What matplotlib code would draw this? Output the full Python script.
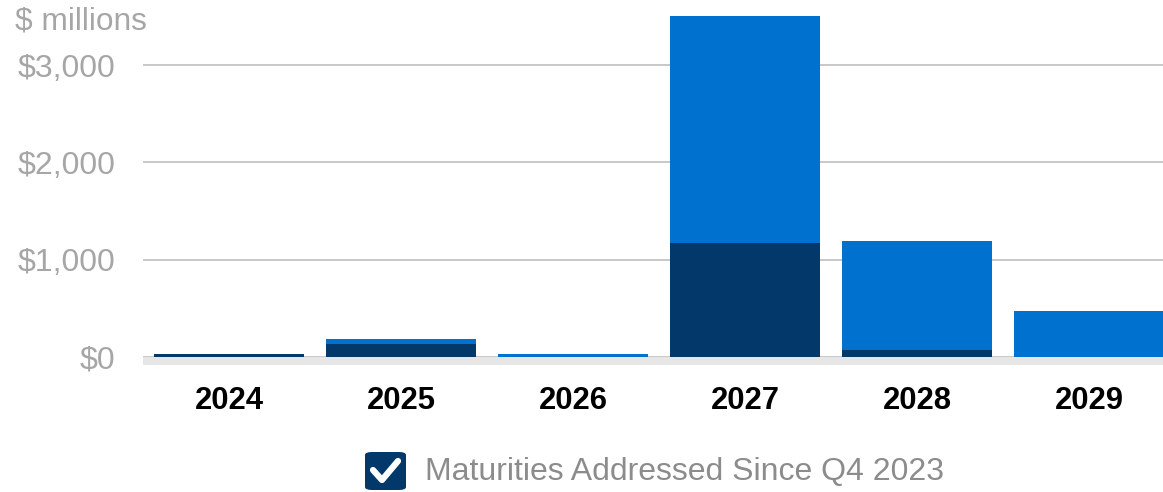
import matplotlib.pyplot as plt
from matplotlib.patches import FancyBboxPatch
from matplotlib.lines import Line2D

years = ["2024", "2025", "2026", "2027", "2028", "2029"]
addressed = [30, 130, 0, 1175, 70, 0]
remaining = [0, 55, 32, 2330, 1125, 478]

navy = "#02396A"
blue = "#0071CE"
gray_txt = "#A6A6A6"

plt.rcParams["font.family"] = ["Liberation Sans", "DejaVu Sans"]

fig = plt.figure(figsize=(11.63, 4.92), dpi=100)
ax = fig.add_axes([143 / 1163, 0.2575, 1 - 143 / 1163, 0.7209])

x = range(len(years))
ax.bar(x, addressed, width=0.872, color=navy, zorder=3)
ax.bar(x, remaining, width=0.872, bottom=addressed, color=blue, zorder=3)

ax.set_xlim(-0.5, 5.43)
ax.set_ylim(-85, 3560)
ax.axhspan(-85, 0, color="#E6E6E6", zorder=2, lw=0)

ax.set_yticks([0, 1000, 2000, 3000])
ax.set_yticklabels(["$0", "$1,000", "$2,000", "$3,000"])
ax.yaxis.grid(True, color="#C8C8C8", linewidth=1.4, zorder=0)
ax.tick_params(axis="y", length=0, pad=20, labelsize=23, labelcolor=gray_txt)
ax.set_xticks(list(x))
ax.set_xticklabels(years, fontweight="bold", fontsize=22.3)
ax.tick_params(axis="x", length=0, pad=15)
for s in ax.spines.values():
    s.set_visible(False)

fig.text(15 / 1163, 1 - 22 / 492, "$ millions", fontsize=22.8, color=gray_txt,
         va="center", ha="left")

# legend: checkbox + label
W, H = 1163, 492
box = FancyBboxPatch((365 / W, 1 - 490 / H), 41 / W, 38 / H,
                     boxstyle="round,pad=0,rounding_size=0.006",
                     transform=fig.transFigure, facecolor=navy, edgecolor="none")
fig.patches.append(box)
fig.lines.append(Line2D([373 / W, 382 / W, 398 / W],
                        [1 - 470 / H, 1 - 480 / H, 1 - 461 / H],
                        transform=fig.transFigure, color="white", linewidth=4.5,
                        solid_capstyle="round", solid_joinstyle="round"))
fig.text(425 / W, 1 - 472 / H, "Maturities Addressed Since Q4 2023", fontsize=23,
         color="#8C8C8C", va="center", ha="left")

fig.savefig("out.png", dpi=100)
